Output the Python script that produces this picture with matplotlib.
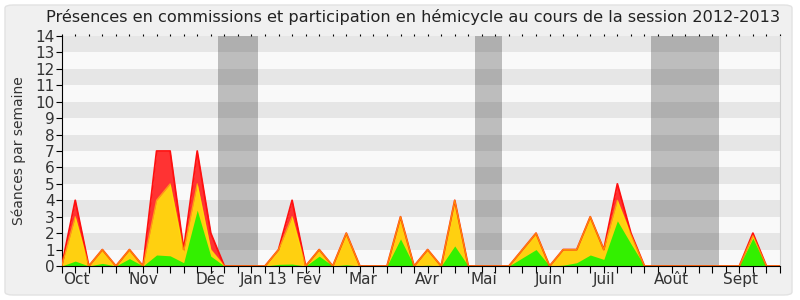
import matplotlib.pyplot as plt
from matplotlib.patches import FancyBboxPatch
import numpy as np

# one value per week of the session (index 0 = first week)
total = [0, 4, 0, 1, 0, 1, 0, 7, 7, 1, 7, 2, 0, 0, 0, 0, 1, 4, 0, 1,
         0, 2, 0, 0, 0, 3, 0, 1, 0, 4, 0, 0, 0, 0, 1, 2, 0, 1, 1, 3,
         1, 5, 2, 0, 0, 0, 0, 0, 0, 0, 0, 2, 0, 0]
yellow = [0, 3, 0, 1, 0, 1, 0, 4, 5, 0.9, 5, 1, 0, 0, 0, 0, 1, 3, 0, 1,
          0, 2, 0, 0, 0, 3, 0, 1, 0, 4, 0, 0, 0, 0, 1, 2, 0, 1, 1, 3,
          1, 4, 1.9, 0, 0, 0, 0, 0, 0, 0, 0, 1.85, 0, 0]
green = [0, 0.3, 0, 0.16, 0, 0.45, 0, 0.67, 0.62, 0.2, 3.4, 0.6, 0, 0, 0, 0, 0.1, 0.12, 0, 0.6,
         0, 0.08, 0, 0, 0, 1.65, 0, 0.05, 0, 1.22, 0, 0, 0, 0, 0.5, 1.0, 0, 0.05, 0.2, 0.67,
         0.4, 2.75, 1.35, 0, 0, 0, 0, 0, 0, 0, 0, 1.7, 0, 0]

months = ["Oct", "Nov", "Déc", "Jan 13", "Fév", "Mar", "Avr", "Mai",
          "Juin", "Juil", "Août", "Sept"]
month_pos = [1.1, 6.0, 10.95, 14.9, 18.2, 22.2, 27.0, 31.15, 35.95, 40.0, 45.0, 50.05]

# holidays (in week units)
holidays = [(11.5, 14.5), (30.5, 32.5), (43.5, 48.5)]

weeks = np.arange(len(total))

fig = plt.figure(figsize=(8, 3), dpi=100)
fig.patch.set_facecolor("white")
# rounded grey panel behind everything
panel = FancyBboxPatch((5 / 800, 5 / 300), 787 / 800, 290 / 300,
                       boxstyle="round,pad=0,rounding_size=0.01",
                       transform=fig.transFigure, facecolor="#F0F0F0",
                       edgecolor="#E2E2E2", linewidth=1, zorder=-10)
fig.patches.append(panel)

ax = fig.add_axes([61.7 / 800, 34 / 300, 718.3 / 800, 230 / 300])
ax.set_facecolor("#F9F9F9")

# alternating stripes
for k in range(1, 14, 2):
    ax.axhspan(k, k + 1, color="#E6E6E6", zorder=0, lw=0)

for a, b in holidays:
    ax.axvspan(a, b, color="black", alpha=0.24, zorder=1, lw=0)

ax.fill_between(weeks, 0, total, color="#FF3333", lw=0, zorder=2)
ax.fill_between(weeks, 0, yellow, color="#FFD010", lw=0, zorder=3)
ax.fill_between(weeks, 0, green, color="#33F000", lw=0, zorder=4)
ax.plot(weeks, total, color="#FF1010", lw=1.3, zorder=5)
ax.plot(weeks, yellow, color="#FFEE00", lw=0.9, alpha=0.55, zorder=6)

ax.set_xlim(0, len(total) - 1)
ax.set_ylim(0, 14)

ax.set_yticks(range(0, 15))
ax.tick_params(axis="y", length=4, labelsize=11, pad=1, colors="#333333")
ax.tick_params(axis="y", color="black")

# weekly ticks, no labels
ax.set_xticks(weeks)
ax.set_xticklabels([])
ax.tick_params(axis="x", which="major", length=5, top=True, color="black")
for t in ax.xaxis.get_major_ticks():
    t.tick2line.set_markersize(1.5)
    t.tick2line.set_color("#444444")

# month names under the axis
for pos, name in zip(month_pos, months):
    ax.text(pos, -0.028, name, transform=ax.get_xaxis_transform(),
            ha="center", va="top", fontsize=11, color="#333333")

ax.spines["top"].set_visible(False)
ax.spines["right"].set_color("#D0D0D0")
ax.spines["left"].set_color("black")
ax.spines["bottom"].set_color("black")
ax.spines["bottom"].set_zorder(7)

ax.set_ylabel("Séances par semaine", fontsize=10, color="#333333", labelpad=7)
fig.text(0.516, 0.943, "Présences en commissions et participation en hémicycle "
         "au cours de la session 2012-2013", ha="center", va="center",
         fontsize=11.6, color="#222222")

fig.savefig("out.png", dpi=100, facecolor=fig.get_facecolor())
